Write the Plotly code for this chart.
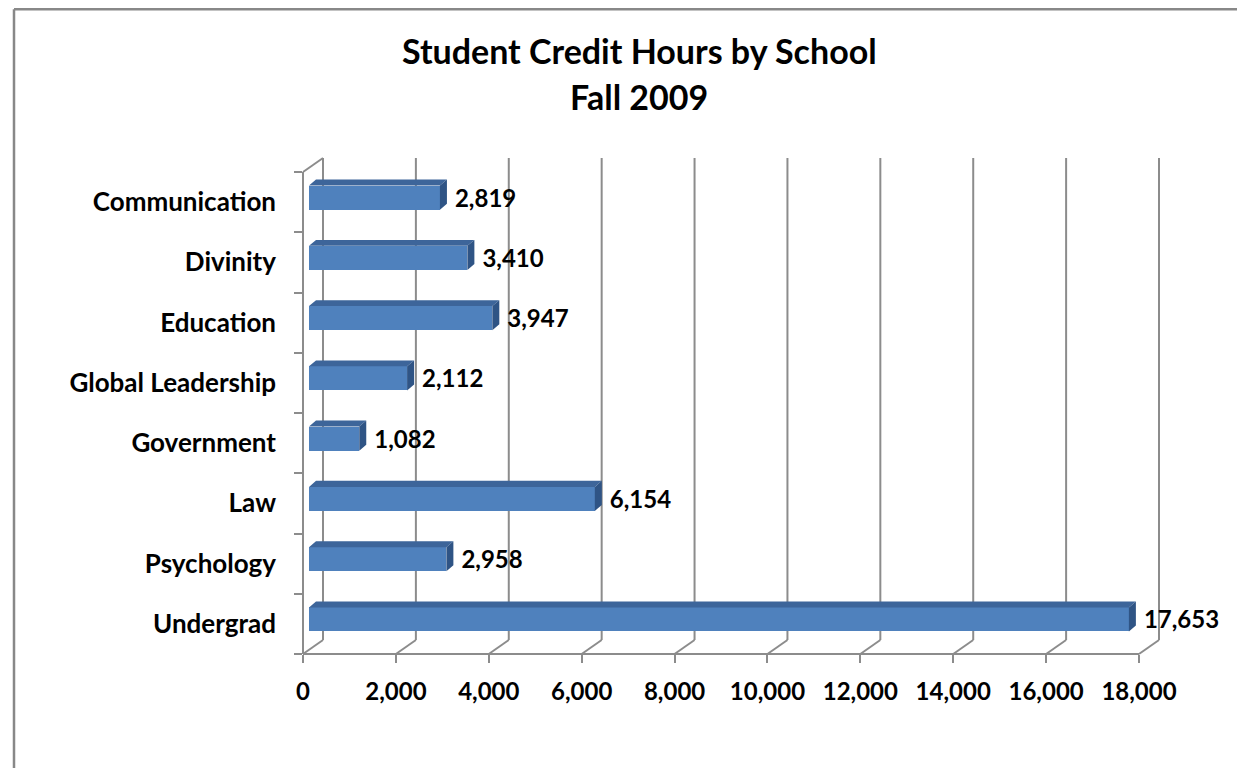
import plotly.graph_objects as go

# ---- data ----
categories = ["Communication", "Divinity", "Education", "Global Leadership",
              "Government", "Law", "Psychology", "Undergrad"]
credit_hours = [2819, 3410, 3947, 2112, 1082, 6154, 2958, 17653]
x_tick_values = list(range(0, 18001, 2000))
title_line1 = "Student Credit Hours by School"
title_line2 = "Fall 2009"

# ---- geometry (pixels, figure coords; page adds 8px body margin) ----
OFF = 8
W, H = 1245 - OFF, 768 - OFF
L_PX, T_PX = 303 - OFF, 158 - OFF
FRONT_W_PX = 836          # front plane width for 0..18000
DEPTH_X_PX, DEPTH_Y_PX = 20, 14
BAND_PX = 60.25
XMAX_DATA = 18000
KX = FRONT_W_PX / XMAX_DATA
n = len(categories)
PLOT_W = FRONT_W_PX + DEPTH_X_PX
PLOT_H = n * BAND_PX + DEPTH_Y_PX
XR = PLOT_W / KX
YR = PLOT_H / BAND_PX
DX = DEPTH_X_PX / KX
DY = DEPTH_Y_PX / BAND_PX

# bar geometry
BASE = 6 / KX
BAR_H = 24 / BAND_PX
BAR_SHIFT = 4.5 / BAND_PX
BD_X = 7 / KX
BD_Y = 6 / BAND_PX

FONT = "Lato, Carlito, Calibri, sans-serif"
GRID = "#8c8c8c"

# categories from bottom (Undergrad) to top
cats_b = categories[::-1]
vals_b = credit_hours[::-1]
centers = [i + 0.5 + BAR_SHIFT for i in range(n)]

fig = go.Figure()

# front faces
fig.add_trace(go.Bar(
    orientation="h", y=centers, x=vals_b, base=BASE, width=BAR_H,
    marker=dict(color="#4F81BD", line=dict(width=0)),
    hoverinfo="skip", showlegend=False))

# top faces and side faces
tx, ty, sx, sy = [], [], [], []
for c, v in zip(centers, vals_b):
    top = c + BAR_H / 2
    bot = c - BAR_H / 2
    x0, x1 = BASE, BASE + v
    tx += [x0, x0 + BD_X, x1 + BD_X, x1, x0, None]
    ty += [top, top + BD_Y, top + BD_Y, top, top, None]
    sx += [x1, x1, x1 + BD_X, x1 + BD_X, x1, None]
    sy += [bot, top, top + BD_Y, bot + BD_Y, bot, None]
fig.add_trace(go.Scatter(x=tx, y=ty, mode="lines", fill="toself",
                         fillcolor="#3D659A", line=dict(width=0),
                         hoverinfo="skip", showlegend=False))
fig.add_trace(go.Scatter(x=sx, y=sy, mode="lines", fill="toself",
                         fillcolor="#2F5485", line=dict(width=0),
                         hoverinfo="skip", showlegend=False))

# data labels
fig.add_trace(go.Scatter(
    x=[BASE + v + BD_X + 8 / KX for v in vals_b],
    y=[c - 3 / BAND_PX for c in centers],
    mode="text", text=[f"{v:,}" for v in vals_b], textposition="middle right",
    textfont=dict(family=FONT, size=24, color="black", weight="bold"),
    hoverinfo="skip", showlegend=False, cliponaxis=False))

# ---- 3D frame lines (paper refs so they are not clipped) ----
def xp(v):
    return v / XR

def yp(v):
    return v / YR

shapes = []
line = dict(color=GRID, width=2)
for t in x_tick_values:
    # back wall gridline
    shapes.append(dict(type="line", xref="paper", yref="paper",
                       x0=xp(t + DX), x1=xp(t + DX), y0=yp(DY), y1=1,
                       line=line, layer="below"))
    # floor diagonal
    shapes.append(dict(type="line", xref="paper", yref="paper",
                       x0=xp(t), x1=xp(t + DX), y0=0, y1=yp(DY),
                       line=line, layer="below"))
# front bottom edge
shapes.append(dict(type="line", xref="paper", yref="paper",
                   x0=0, x1=xp(XMAX_DATA), y0=0, y1=0, line=line, layer="below"))
# left front edge + top diagonal
shapes.append(dict(type="line", xref="paper", yref="paper",
                   x0=0, x1=0, y0=0, y1=yp(n), line=line, layer="below"))
shapes.append(dict(type="line", xref="paper", yref="paper",
                   x0=0, x1=xp(DX), y0=yp(n), y1=1, line=line, layer="below"))
# outer chart border (top edge sits at the very top of the figure)
bx = (14 - OFF - L_PX) / PLOT_W
by = (T_PX + PLOT_H - 1.2) / PLOT_H
shapes.append(dict(type="line", xref="paper", yref="paper",
                   x0=bx, x1=bx, y0=by, y1=-1, line=dict(color="#888888", width=2.5)))
shapes.append(dict(type="line", xref="paper", yref="paper",
                   x0=bx, x1=2, y0=by, y1=by, line=dict(color="#888888", width=2.5)))

fig.update_layout(
    width=W, height=H,
    margin=dict(l=L_PX, r=W - L_PX - PLOT_W, t=T_PX, b=H - T_PX - PLOT_H),
    paper_bgcolor="white", plot_bgcolor="white",
    font=dict(family=FONT, color="black"),
    showlegend=False,
    shapes=shapes,
    bargap=0,
    annotations=[
        dict(text=f"<b>{title_line1}</b>", xref="paper", yref="paper",
             x=(639 - OFF - L_PX) / PLOT_W, y=(T_PX + PLOT_H - (51 - OFF)) / PLOT_H,
             xanchor="center", yanchor="middle", showarrow=False,
             font=dict(family=FONT, size=34, color="black")),
        dict(text=f"<b>{title_line2}</b>", xref="paper", yref="paper",
             x=(639 - OFF - L_PX) / PLOT_W, y=(T_PX + PLOT_H - (96 - OFF)) / PLOT_H,
             xanchor="center", yanchor="middle", showarrow=False,
             font=dict(family=FONT, size=34, color="black")),
    ],
)

fig.update_xaxes(
    range=[0, XR], showgrid=False, zeroline=False, showline=False,
    tickvals=x_tick_values, tickformat=",d",
    ticks="outside", ticklen=8, tickwidth=2, tickcolor=GRID,
    tickfont=dict(family=FONT, size=24, color="black", weight="bold"),
    ticklabelstandoff=8, fixedrange=True)
fig.update_yaxes(
    range=[0, YR], showgrid=False, zeroline=False, showline=False,
    tickvals=[i + 0.5 for i in range(n)], ticktext=cats_b, ticks="",
    tickfont=dict(family=FONT, size=26, color="black", weight="bold"),
    ticklabelstandoff=26,
    minor=dict(tickvals=list(range(n + 1)), ticks="outside", ticklen=8,
               tickwidth=2, tickcolor=GRID),
    fixedrange=True)

fig.write_html("out.html")
